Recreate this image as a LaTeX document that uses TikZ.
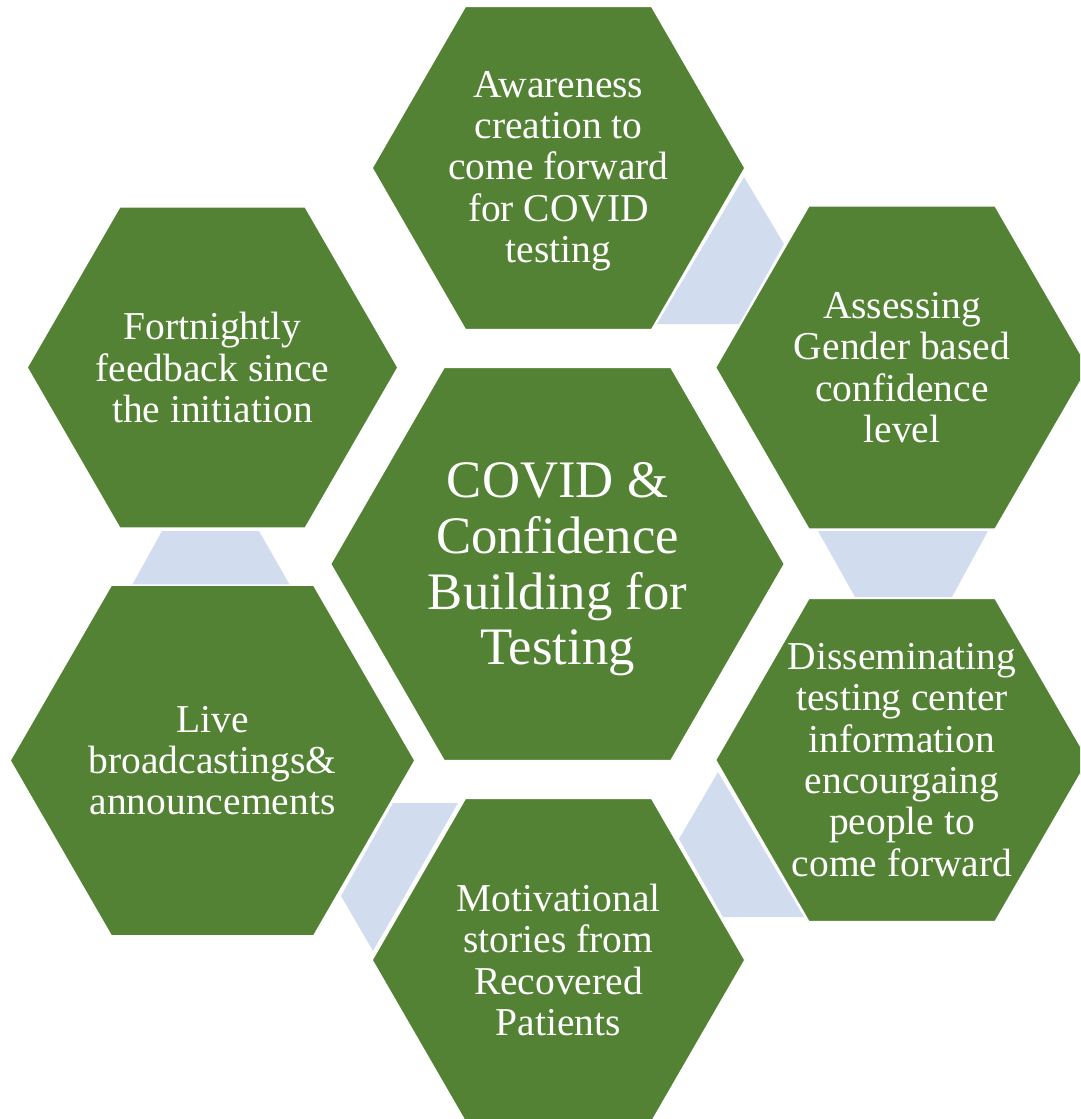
\documentclass[tikz,border=0pt]{standalone}
\usepackage{fontspec}
\setmainfont{Liberation Serif}
\usetikzlibrary{shapes.geometric}
\definecolor{leafgreen}{RGB}{84,130,53}
\definecolor{paleblue}{RGB}{209,221,239}
\begin{document}
\begin{tikzpicture}[x=1pt, y=-1pt,
    hexa/.style={regular polygon, regular polygon sides=6, fill=leafgreen, draw=white, line width=1.5pt, inner sep=0pt, outer sep=0pt},
    txt/.style={text=white, align=center, font=\fontsize{39.5}{41.3}\selectfont},
    bigtxt/.style={text=white, align=center, yshift=-5.5pt, font=\fontsize{52.7}{55.7}\selectfont},
    link/.style={fill=paleblue}]
  \useasboundingbox (0,0) rectangle (1080,1119);
  \clip (0,0) rectangle (1080,1119);
  % links between the outer cells
  \fill[link] (744,177) -- (784,244) -- (739,324) -- (657,324) -- cycle;
  \fill[link] (818,531) -- (988,531) -- (952,597) -- (855,597) -- cycle;
  \fill[link] (162,531) -- (259,531) -- (291,587) -- (131,587) -- cycle;
  \fill[link] (718,772) -- (679,839) -- (723,917) -- (804,917) -- cycle;
  \fill[link] (393,803) -- (458,803) -- (373,951) -- (341,896) -- cycle;
  % cells
  \node[hexa, minimum size=454pt] at (557.5,564) (core) {};
  \node[bigtxt] at (core) (core-t) {COVID \&\\Confidence\\Building for\\Testing};
  \node[hexa, minimum size=373pt] at (558.5,168) (aware) {};
  \node[txt, yshift=-3pt] at (aware) (aware-t) {Awareness\\creation to\\come forward\\for COVID\\testing};
  \node[hexa, minimum size=373pt] at (902,367.5) (gender) {};
  \node[txt] at (gender) (gender-t) {Assessing\\Gender based\\confidence\\level};
  \node[hexa, minimum size=373pt] at (902,760) (dissem) {};
  \node[txt] at (dissem) (dissem-t) {Disseminating\\testing center\\information\\encourgaing\\people to\\come forward};
  \node[hexa, minimum size=373pt] at (558.5,960) (motiv) {};
  \node[txt] at (motiv) (motiv-t) {Motivational\\stories from\\Recovered\\Patients};
  \node[hexa, minimum size=405pt] at (212.5,760.5) (live) {};
  \node[txt] at (live) (live-t) {Live\\broadcastings\&\\announcements};
  \node[hexa, minimum size=371pt] at (212.5,367.5) (fort) {};
  \node[txt] at (fort) (fort-t) {Fortnightly\\feedback since\\the initiation};
\end{tikzpicture}
\end{document}
